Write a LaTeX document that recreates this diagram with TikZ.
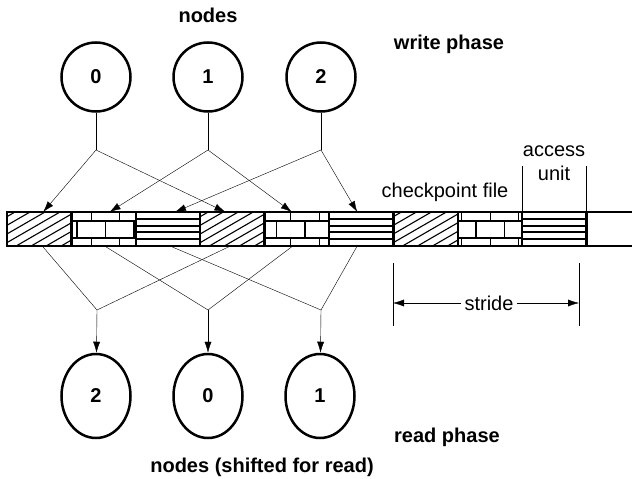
\documentclass[tikz,border=0pt]{standalone}
\usepackage{fontspec}
\setmainfont{Liberation Sans}
\usetikzlibrary{positioning,arrows.meta,shapes.geometric}
\newcommand{\figfont}{\fontsize{20}{24}\selectfont}
\tikzset{
    x=1pt,
    y=-1pt,
    line width=1.4pt,
    >={Latex[length=11pt,width=7pt]},
    proc/.style = {
        draw,
        shape=circle,
        minimum size=69pt,
        inner sep=0pt,
        line width=2.5pt,
        font=\figfont\bfseries
    },
    readproc/.style = {
        draw,
        shape=ellipse,
        minimum width=69pt,
        minimum height=84pt,
        inner sep=0pt,
        line width=2.5pt,
        font=\figfont\bfseries
    },
    cell/.style = {
        draw,
        shape=rectangle,
        minimum width=64.4pt,
        minimum height=34pt,
        inner sep=0pt,
        outer sep=0pt,
        line width=2.5pt
    },
    hatched/.style = {
        cell,
        path picture={
            \foreach \a in {-120,-105,...,60}
                \draw[line width=1.1pt] ([xshift=\a pt,yshift=-21pt]path picture bounding box.center) -- ++(69.3,-40);
        }
    },
    bricked/.style = {
        cell,
        path picture={
            \draw[line width=1.1pt] ([yshift=8pt]path picture bounding box.west) -- ([yshift=8pt]path picture bounding box.east)
                ([yshift=-9pt]path picture bounding box.west) -- ([yshift=-9pt]path picture bounding box.east);
            \foreach \k in {-3,...,21} {
                \pgfmathsetmacro\bx{77+28.5*\k-\cx}
                \pgfmathsetmacro\tx{91.25+28.5*\k-\cx}
                \draw[line width=1.1pt] ([xshift=\bx pt,yshift=8pt]path picture bounding box.center) -- ++(0,17);
                \draw[line width=1.1pt] ([xshift=\tx pt,yshift=20pt]path picture bounding box.center) -- ++(0,12);
                \draw[line width=1.1pt] ([xshift=\tx pt,yshift=-9pt]path picture bounding box.center) -- ++(0,12);
            }
        }
    },
    striped/.style = {
        cell,
        path picture={
            \foreach \yy in {-10.2,-3.4,3.4,10.2}
                \draw[line width=2pt] ([yshift=\yy pt]path picture bounding box.west) -- ([yshift=\yy pt]path picture bounding box.east);
        }
    },
    phase/.style = {
        font=\figfont\bfseries
    },
    plain/.style = {
        font=\figfont
    }
}

\begin{document}
\begin{tikzpicture}
            \useasboundingbox (0,0) rectangle (632,479);

            \foreach \i/\kind in {0/hatched,1/bricked,2/striped,3/hatched,4/bricked,5/striped,6/hatched,7/bricked,8/striped} {
                \pgfmathsetmacro\cx{39.2+64.4*\i}
                \node[\kind] (cell\i) at (\cx,229) {};
            }
            \coordinate (tailtop) at (632,212);
            \coordinate (tailbot) at (632,246);
            \path[draw, line width=2.5pt] (cell8.north east) -- (tailtop);
            \path[draw, line width=2.5pt] (cell8.south east) -- (tailbot);

            \node[phase] (nodestitle) at (208,15) {nodes};
            \node[phase] (writephase) at (449,44) {write phase};
            \node[phase] (readphase) at (447,437) {read phase};
            \node[phase] (readtitle) at (262,467) {nodes (shifted for read)};

            \node[proc] (writer0) at (96,77) {0};
            \node[proc] (writer1) at (208,77) {1};
            \node[proc] (writer2) at (321,77) {2};

            \node[readproc] (reader2) at (96,396) {2};
            \node[readproc] (reader0) at (208,396) {0};
            \node[readproc] (reader1) at (320,396) {1};

            \coordinate (wfork0) at (96,150);
            \coordinate (wfork1) at (208,150);
            \coordinate (wfork2) at (321,150);
            \coordinate (rfork0) at (97,310);
            \coordinate (rfork1) at (208,310);
            \coordinate (rfork2) at (321,310);

            \path[draw] (writer0) -- (wfork0);
            \path[draw] (writer1) -- (wfork1);
            \path[draw] (writer2) -- (wfork2);

            \path[draw, ->] (wfork0) -- ([xshift=4pt]cell0.north);
            \path[draw, ->] (wfork0) -- ([xshift=-7pt]cell3.north);
            \path[draw, ->] (wfork1) -- ([xshift=6pt]cell1.north);
            \path[draw, ->] (wfork1) -- ([xshift=-5pt]cell4.north);
            \path[draw, ->] (wfork2) -- ([xshift=7pt]cell2.north);
            \path[draw, ->] (wfork2) -- ([xshift=-4pt]cell5.north);

            \path[draw] ([xshift=3pt]cell0.south) -- (rfork0) -- ([xshift=-2pt]cell3.south);
            \path[draw] ([xshift=1pt]cell1.south) -- (rfork1) -- ([xshift=-4pt]cell4.south);
            \path[draw] ([xshift=2pt]cell2.south) -- (rfork2) -- ([xshift=-4pt]cell5.south);

            \path[draw, ->] (rfork0) -- (reader2);
            \path[draw, ->] (rfork1) -- (reader0);
            \path[draw, ->] (rfork2) -- (reader1);

            \node[plain] (ckptfile) at (445,192) {checkpoint file};
            \node[plain, align=center] (accessunit) at (554,163) {access\\unit};
            \coordinate[above=46pt of cell8.north west] (accessL);
            \coordinate[above=46pt of cell8.north east] (accessR);
            \path[draw] (cell8.north west) -- (accessL);
            \path[draw] (cell8.north east) -- (accessR);

            \node[plain] (stride) at (489,303) {stride};
            \coordinate (strideL) at (393,303);
            \coordinate (strideR) at (579,303);
            \coordinate (tickLtop) at (393,263);
            \coordinate (tickLbot) at (393,326);
            \coordinate (tickRtop) at (579,263);
            \coordinate (tickRbot) at (579,326);
            \path[draw] (tickLtop) -- (tickLbot);
            \path[draw] (tickRtop) -- (tickRbot);
            \path[draw, ->] (stride) -- (strideL);
            \path[draw, ->] (stride) -- (strideR);

        \end{tikzpicture}
\end{document}
